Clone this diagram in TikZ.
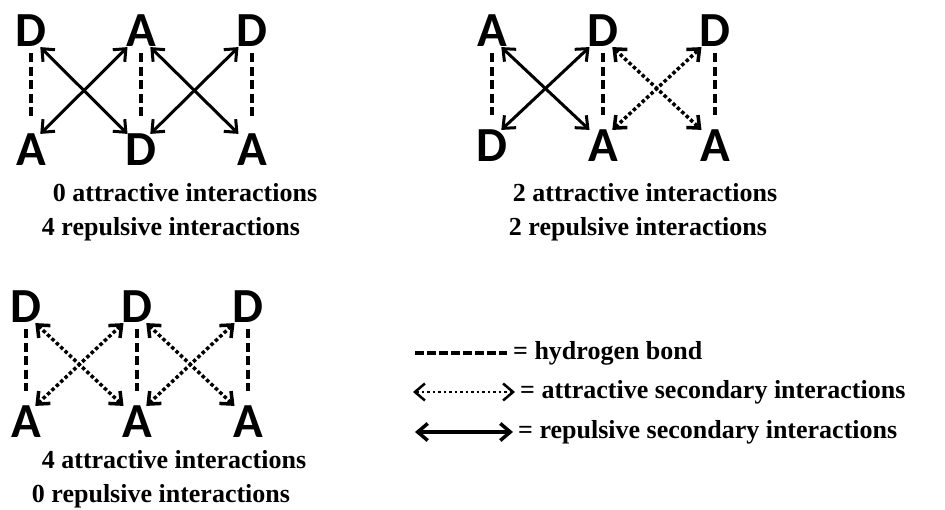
\documentclass[tikz,border=0pt]{standalone}
\usepackage{fontspec}
\setmainfont{Liberation Serif}
\newfontfamily\ltrfont{Carlito}
\usetikzlibrary{arrows.meta}

\begin{document}
\begin{tikzpicture}[x=1pt,y=-1pt,
	>={Straight Barb[length=10pt,width=17pt]},
	ltr/.style={font=\ltrfont\bfseries\fontsize{49}{49}\selectfont, inner sep=0pt},
	captxt/.style={font=\bfseries\fontsize{26}{26}\selectfont, inner sep=0pt, anchor=base},
	keytext/.style={font=\bfseries\fontsize{26}{26}\selectfont, inner sep=0pt, anchor=west},
	hbond/.style={line width=4pt, dash pattern=on 9pt off 4.5pt, shorten <=6pt, shorten >=15pt},
	rep/.style={line width=3pt, <->},
	att/.style={line width=3.5pt, dash pattern=on 3.5pt off 2.5pt, <->}]
	\useasboundingbox (0,0) rectangle (945,510);

	% DAD / ADA
	\node[ltr] (p1_t1) at (31,31) {D};
	\node[ltr] (p1_t2) at (141,31) {A};
	\node[ltr] (p1_t3) at (252,31) {D};
	\node[ltr] (p1_b1) at (31,150) {A};
	\node[ltr] (p1_b2) at (141,150) {D};
	\node[ltr] (p1_b3) at (252,150) {A};
	\foreach \i in {1,2,3} \draw[hbond] (p1_t\i.south) -- (p1_b\i.north);
	\draw[rep] (p1_t1.-60) -- (p1_b2.130);
	\draw[rep] (p1_b1.60) -- (p1_t2.-130);
	\draw[rep] (p1_t2.-60) -- (p1_b3.130);
	\draw[rep] (p1_b2.60) -- (p1_t3.-130);
	\node[captxt] (p1_att) at (185,202) {0 attractive interactions};
	\node[captxt] (p1_rep) at (171,236) {4 repulsive interactions};

	% ADD / DAA
	\node[ltr] (p2_t1) at (492,31) {A};
	\node[ltr] (p2_t2) at (603,31) {D};
	\node[ltr] (p2_t3) at (715,31) {D};
	\node[ltr] (p2_b1) at (492,146) {D};
	\node[ltr] (p2_b2) at (603,146) {A};
	\node[ltr] (p2_b3) at (715,146) {A};
	\foreach \i in {1,2,3} \draw[hbond] (p2_t\i.south) -- (p2_b\i.north);
	\draw[rep] (p2_t1.-60) -- (p2_b2.130);
	\draw[rep] (p2_b1.60) -- (p2_t2.-130);
	\draw[att] (p2_t2.-60) -- (p2_b3.130);
	\draw[att] (p2_b2.60) -- (p2_t3.-130);
	\node[captxt] (p2_att) at (645,202) {2 attractive interactions};
	\node[captxt] (p2_rep) at (638,236) {2 repulsive interactions};

	% DDD / AAA
	\node[ltr] (p3_t1) at (26,307) {D};
	\node[ltr] (p3_t2) at (137,307) {D};
	\node[ltr] (p3_t3) at (248,307) {D};
	\node[ltr] (p3_b1) at (26,422) {A};
	\node[ltr] (p3_b2) at (137,422) {A};
	\node[ltr] (p3_b3) at (248,422) {A};
	\foreach \i in {1,2,3} \draw[hbond] (p3_t\i.south) -- (p3_b\i.north);
	\draw[att] (p3_t1.-60) -- (p3_b2.130);
	\draw[att] (p3_b1.60) -- (p3_t2.-130);
	\draw[att] (p3_t2.-60) -- (p3_b3.130);
	\draw[att] (p3_b2.60) -- (p3_t3.-130);
	\node[captxt] (p3_att) at (174,468) {4 attractive interactions};
	\node[captxt] (p3_rep) at (161,502) {0 repulsive interactions};

	% key
	\node[keytext] (key_hb) at (513,353) {= hydrogen bond};
	\node[keytext] (key_att) at (520,392) {= attractive secondary interactions};
	\node[keytext] (key_rep) at (518,432) {= repulsive secondary interactions};
	\coordinate (key_hb_l) at (415,353);
	\coordinate (key_att_l) at (413,392);
	\coordinate (key_rep_l) at (415,432);
	\draw[line width=3.5pt, dash pattern=on 9pt off 3pt] (key_hb_l) -- ([xshift=-6pt]key_hb.west);
	\draw[line width=2.5pt, dash pattern=on 2.5pt off 3pt, <->] (key_att_l) -- ([xshift=-5pt]key_att.west);
	\draw[line width=3.5pt, <->] (key_rep_l) -- ([xshift=-5pt]key_rep.west);
\end{tikzpicture}
\end{document}
